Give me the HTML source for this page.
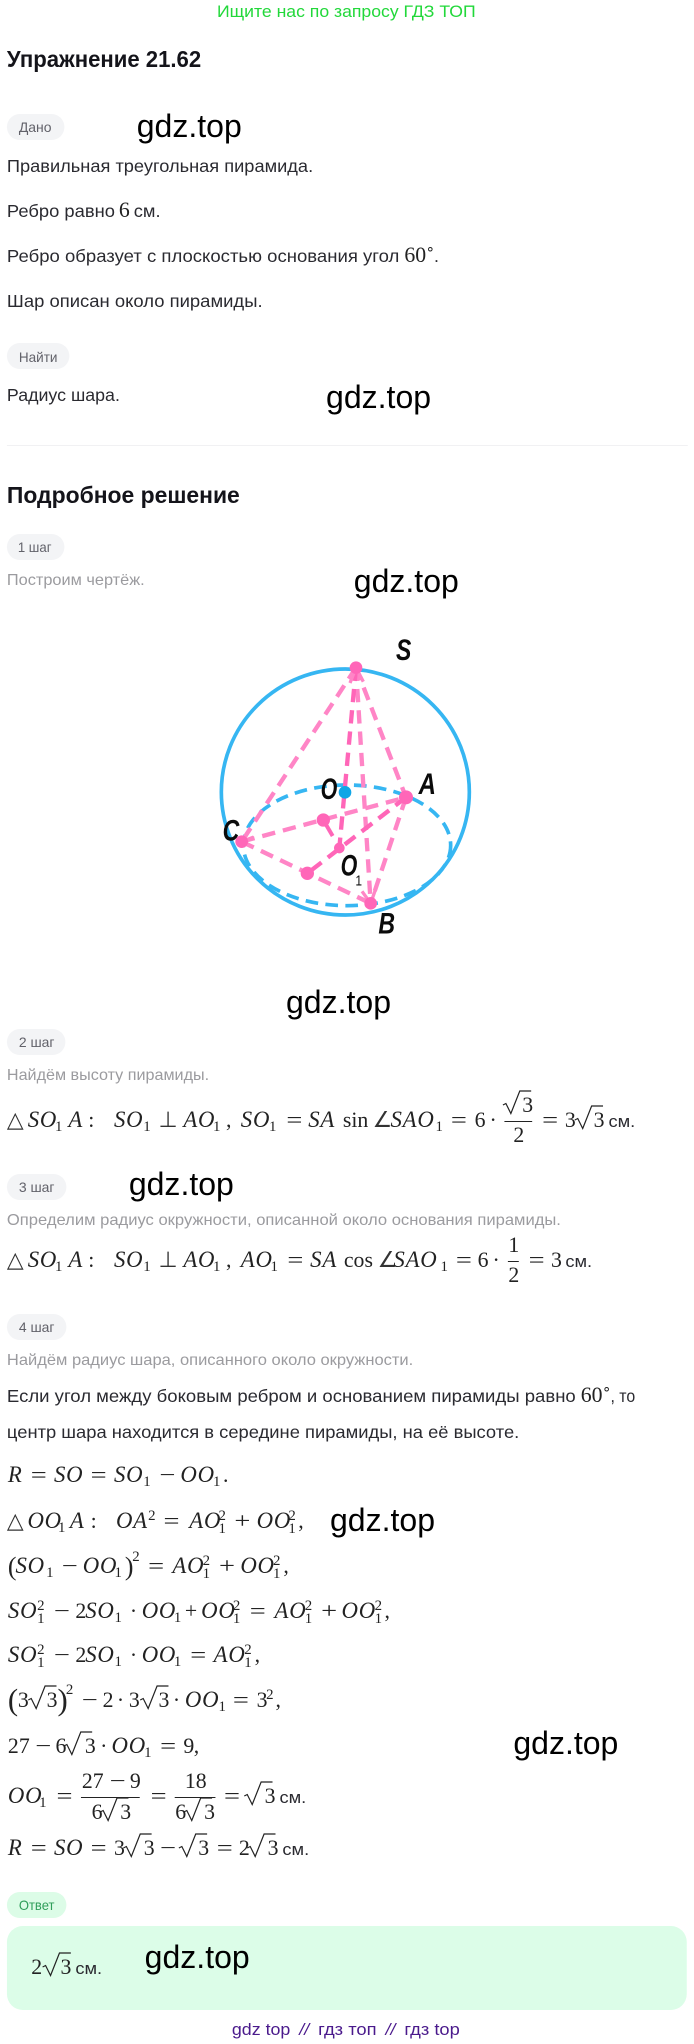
<!DOCTYPE html>
<html lang="ru"><head><meta charset="utf-8"><title>Упражнение 21.62</title>
<style>
html,body{margin:0;padding:0;background:#fff;width:694px;height:2044px;overflow:hidden}
svg{display:block}
text{white-space:pre}
.s{font-family:"Liberation Sans",sans-serif;font-size:18px;fill:#2a2a30}
.h{font-family:"Liberation Sans",sans-serif;font-size:23px;font-weight:bold;fill:#14141a}
.p{font-family:"Liberation Sans",sans-serif;font-size:14px;fill:#62626a}
.g{font-family:"Liberation Sans",sans-serif;font-size:16px;fill:#9b9b9f}
.w{font-family:"Liberation Sans",sans-serif;font-size:32px;fill:#000}
.m{font-family:"Liberation Serif",serif;font-size:22px;fill:#222}
.e{font-family:"Liberation Serif",serif;font-size:22px;fill:#222;transform-box:fill-box;transform-origin:0 0;transform:scaleX(1.3)}
.i{font-family:"Liberation Serif",serif;font-size:23px;font-style:italic;letter-spacing:.8px;fill:#222}
.b{font-family:"Liberation Serif",serif;font-size:15px;fill:#222;transform:translateX(-1.5px)}
.k{font-family:"Liberation Sans",sans-serif;font-size:17px;fill:#2a2a30}
.l{font-family:"Liberation Sans",sans-serif;font-weight:bold;font-style:italic;font-size:88px;fill:#0b0b0b}
.f{font-family:"Liberation Sans",sans-serif;font-size:17px;fill:#4a1a8c}
.d{font-family:"DejaVu Sans",sans-serif;font-size:22px;fill:#333}
.pk{fill:none;stroke:#ff85c6;stroke-width:13;stroke-dasharray:40 24}
</style></head><body>
<svg xmlns="http://www.w3.org/2000/svg" width="694" height="2044" viewBox="0 0 694 2044">
<defs><path id="r" d="M-2.500 -7l3 -1.500l5 10L14.500 -21h11.500" fill="none" stroke="#222" stroke-width="1.2"/></defs>
<g transform="scale(.991 1)">

<text x="219" y="17" font-family="Liberation Sans,sans-serif" font-size="17" fill="#22d83a" textLength="261" lengthAdjust="spacingAndGlyphs">Ищите нас по запросу ГДЗ ТОП</text>
<text class="h" x="7" y="67" textLength="196" lengthAdjust="spacingAndGlyphs">Упражнение 21.62</text>

<rect x="7" y="114" width="58" height="26" rx="13" fill="#f3f4f6"/>
<text class="p" x="19" y="132" textLength="33" lengthAdjust="spacingAndGlyphs">Дано</text>
<text class="w" x="138" y="137" textLength="106" lengthAdjust="spacingAndGlyphs">gdz.top</text>
<text class="s" x="7" y="172" textLength="309" lengthAdjust="spacingAndGlyphs">Правильная треугольная пирамида.</text>
<text class="s" x="7" y="217" textLength="109" lengthAdjust="spacingAndGlyphs">Ребро равно</text>
<text class="m" x="120" y="217">6</text>
<text class="s" x="135" y="217" textLength="27" lengthAdjust="spacingAndGlyphs">см.</text>
<text class="s" x="7" y="262" textLength="396" lengthAdjust="spacingAndGlyphs">Ребро образует с плоскостью основания угол</text>
<text class="m" x="408" y="262">60</text>
<text class="b" x="431" y="254">∘</text>
<text class="s" x="438" y="262">.</text>
<text class="s" x="7" y="307" textLength="258" lengthAdjust="spacingAndGlyphs">Шар описан около пирамиды.</text>

<rect x="7" y="343" width="63" height="26" rx="13" fill="#f3f4f6"/>
<text class="p" x="19" y="362" textLength="39" lengthAdjust="spacingAndGlyphs">Найти</text>
<text class="s" x="7" y="401" textLength="114" lengthAdjust="spacingAndGlyphs">Радиус шара.</text>
<text class="w" x="329" y="408" textLength="106" lengthAdjust="spacingAndGlyphs">gdz.top</text>
<rect x="7" y="445" width="687" height="1" fill="#f1f1f3"/>

<text class="h" x="7" y="503" textLength="235" lengthAdjust="spacingAndGlyphs">Подробное решение</text>
<rect x="7" y="534" width="58" height="26" rx="13" fill="#f3f4f6"/>
<text class="p" x="18" y="552" textLength="34" lengthAdjust="spacingAndGlyphs">1 шаг</text>
<text class="g" x="7" y="585" textLength="139" lengthAdjust="spacingAndGlyphs">Построим чертёж.</text>
<text class="w" x="357" y="592" textLength="106" lengthAdjust="spacingAndGlyphs">gdz.top</text>

<g transform="translate(181.634 630) scale(.33636 .33333)">
<ellipse cx="496" cy="486" rx="372" ry="369" fill="none" stroke="#36b6f2" stroke-width="11"/>
<ellipse cx="501" cy="646" rx="311" ry="181" fill="none" stroke="#36b6f2" stroke-width="11" stroke-dasharray="38 22"/>
<line class="pk" x1="528" y1="113" x2="185" y2="635"/>
<line class="pk" x1="528" y1="113" x2="678" y2="502"/>
<line class="pk" x1="528" y1="113" x2="572" y2="820"/>
<line class="pk" x1="678" y1="502" x2="572" y2="820"/>
<line class="pk" x1="185" y1="635" x2="678" y2="502"/>
<line class="pk" x1="185" y1="635" x2="572" y2="820"/>
<line class="pk" x1="678" y1="502" x2="382" y2="730" style="stroke:#ff66b8"/>
<line class="pk" x1="528" y1="113" x2="478" y2="654" style="stroke:#ff66b8"/>
<line x1="430" y1="570" x2="458" y2="618" stroke="#ff66b8" stroke-width="12"/>
<path d="M528 113l-18 46M528 113l22 42M572 820l-26 -36M572 820l14 -40M185 635l36 -14M185 635l36 16" stroke="#ff85c6" stroke-width="10" fill="none"/>
<g fill="#ff66b8">
<circle cx="528" cy="113" r="19"/><circle cx="678" cy="502" r="21"/><circle cx="572" cy="820" r="19"/>
<circle cx="185" cy="635" r="19"/><circle cx="478" cy="654" r="16"/><circle cx="430" cy="570" r="20"/><circle cx="382" cy="730" r="20"/>
</g>
<circle cx="495" cy="487" r="19" fill="#10a6e6"/>
<text class="l" x="648" y="90" textLength="46" lengthAdjust="spacingAndGlyphs">S</text>
<text class="l" x="716" y="492" textLength="52" lengthAdjust="spacingAndGlyphs">A</text>
<text class="l" x="422" y="507" textLength="50" lengthAdjust="spacingAndGlyphs">O</text>
<text class="l" x="128" y="632" textLength="50" lengthAdjust="spacingAndGlyphs">C</text>
<text class="l" x="482" y="737" textLength="50" lengthAdjust="spacingAndGlyphs">O</text>
<text x="526" y="766" font-family="Liberation Sans,sans-serif" font-size="44" fill="#111" textLength="20" lengthAdjust="spacingAndGlyphs">1</text>
<text class="l" x="595" y="910" textLength="50" lengthAdjust="spacingAndGlyphs">B</text>
</g>

<text class="w" x="288.600" y="1013" textLength="106" lengthAdjust="spacingAndGlyphs">gdz.top</text>
<rect x="7" y="1029" width="59" height="26" rx="13" fill="#f3f4f6"/>
<text class="p" x="19" y="1047" textLength="36" lengthAdjust="spacingAndGlyphs">2 шаг</text>
<text class="g" x="7" y="1080" textLength="204" lengthAdjust="spacingAndGlyphs">Найдём высоту пирамиды.</text>

<!-- math 1 -->
<g>
<text class="d" x="7" y="1127">△</text><text class="i" x="28" y="1127">SO</text><text class="b" x="57" y="1131">1</text><text class="i" x="69" y="1127">A</text><text class="m" x="89" y="1127">:</text>
<text class="i" x="115" y="1127">SO</text><text class="b" x="146" y="1131">1</text><text class="d" x="160" y="1127">⊥</text><text class="i" x="185" y="1127">AO</text><text class="b" x="216.500" y="1131">1</text><text class="m" x="228" y="1127">,</text>
<text class="i" x="243" y="1127">SO</text><text class="b" x="273" y="1131">1</text><text class="e" x="289" y="1127">=</text><text class="i" x="311" y="1127">SA</text><text class="m" x="346" y="1127">sin</text><text class="d" x="376" y="1127">∠</text><text class="i" x="394" y="1127">SAO</text><text class="b" x="441" y="1131">1</text><text class="e" x="455" y="1127">=</text><text class="m" x="479" y="1127">6</text><text class="m" x="494" y="1127">·</text>
<use href="#r" x="510" y="1112"/><text class="m" x="527" y="1112">3</text><rect x="509" y="1121" width="28" height="1" fill="#222"/><text class="m" x="518" y="1142">2</text>
<text class="e" x="547" y="1127">=</text><text class="m" x="570" y="1127">3</text><use href="#r" x="582.500" y="1127"/><text class="m" x="599" y="1127">3</text><text class="k" x="614" y="1127" textLength="27" lengthAdjust="spacingAndGlyphs">см.</text>
</g>

<rect x="7" y="1174" width="60" height="26" rx="13" fill="#f3f4f6"/>
<text class="p" x="19" y="1192" textLength="36" lengthAdjust="spacingAndGlyphs">3 шаг</text>
<text class="w" x="130" y="1195" textLength="106" lengthAdjust="spacingAndGlyphs">gdz.top</text>
<text class="g" x="7" y="1225" textLength="559" lengthAdjust="spacingAndGlyphs">Определим радиус окружности, описанной около основания пирамиды.</text>

<!-- math 2 -->
<g>
<text class="d" x="7" y="1267">△</text><text class="i" x="28" y="1267">SO</text><text class="b" x="57" y="1271">1</text><text class="i" x="69" y="1267">A</text><text class="m" x="89" y="1267">:</text>
<text class="i" x="115" y="1267">SO</text><text class="b" x="146" y="1271">1</text><text class="d" x="160" y="1267">⊥</text><text class="i" x="185" y="1267">AO</text><text class="b" x="216.500" y="1271">1</text><text class="m" x="228" y="1267">,</text>
<text class="i" x="243" y="1267">AO</text><text class="b" x="274.500" y="1271">1</text><text class="e" x="290" y="1267">=</text><text class="i" x="313" y="1267">SA</text><text class="m" x="347" y="1267">cos</text><text class="d" x="381" y="1267">∠</text><text class="i" x="397" y="1267">SAO</text><text class="b" x="446" y="1271">1</text><text class="e" x="460" y="1267">=</text><text class="m" x="482" y="1267">6</text><text class="m" x="497" y="1267">·</text>
<text class="m" x="513" y="1252">1</text><rect x="512.500" y="1261" width="11" height="1" fill="#222"/><text class="m" x="513" y="1282">2</text>
<text class="e" x="533.500" y="1267">=</text><text class="m" x="556" y="1267">3</text><text class="k" x="570.500" y="1267" textLength="27" lengthAdjust="spacingAndGlyphs">см.</text>
</g>

<rect x="7" y="1314" width="60" height="26" rx="13" fill="#f3f4f6"/>
<text class="p" x="19" y="1332" textLength="36" lengthAdjust="spacingAndGlyphs">4 шаг</text>
<text class="g" x="7" y="1365" textLength="410" lengthAdjust="spacingAndGlyphs">Найдём радиус шара, описанного около окружности.</text>
<text class="s" x="7" y="1402" textLength="574" lengthAdjust="spacingAndGlyphs">Если угол между боковым ребром и основанием пирамиды равно</text>
<text class="m" x="586" y="1402">60</text><text class="b" x="609" y="1394">∘</text>
<text class="s" x="616" y="1402" textLength="25" lengthAdjust="spacingAndGlyphs">, то</text>
<text class="s" x="7" y="1438" textLength="517" lengthAdjust="spacingAndGlyphs">центр шара находится в середине пирамиды, на её высоте.</text>

<!-- R=SO -->
<text class="i" x="8" y="1482">R</text><text class="e" x="31" y="1482">=</text><text class="i" x="54.500" y="1482">SO</text><text class="e" x="91.500" y="1482">=</text><text class="i" x="115" y="1482">SO</text><text class="b" x="146" y="1486">1</text><text class="e" x="161" y="1482">−</text><text class="i" x="182" y="1482">OO</text><text class="b" x="216.500" y="1486">1</text><text class="m" x="225" y="1482">.</text>

<!-- OO1A -->
<text class="d" x="7" y="1528">△</text><text class="i" x="27.700" y="1528">OO</text><text class="b" x="60" y="1532">1</text><text class="i" x="70.500" y="1528">A</text><text class="m" x="91.500" y="1528">:</text>
<text class="i" x="117" y="1528">OA</text><text class="b" x="151" y="1520">2</text><text class="e" x="165" y="1528">=</text><text class="i" x="191" y="1528">AO</text><text class="b" x="222" y="1520">2</text><text class="b" x="222" y="1533">1</text><text class="e" x="236.500" y="1528">+</text><text class="i" x="259" y="1528">OO</text><text class="b" x="292.500" y="1520">2</text><text class="b" x="292.500" y="1533">1</text><text class="m" x="301" y="1528">,</text>
<text class="w" x="333" y="1531" textLength="106" lengthAdjust="spacingAndGlyphs">gdz.top</text>

<!-- line 1573 -->
<text class="m" x="8" y="1575" style="font-size:26px">(</text><text class="i" x="15.600" y="1573">SO</text><text class="b" x="48" y="1577">1</text><text class="e" x="62.500" y="1573">−</text><text class="i" x="83.500" y="1573">OO</text><text class="b" x="117" y="1577">1</text><text class="m" x="126" y="1575" style="font-size:26px">)</text><text class="b" x="135" y="1561">2</text><text class="e" x="149.500" y="1573">=</text><text class="i" x="174" y="1573">AO</text><text class="b" x="206" y="1565">2</text><text class="b" x="206" y="1578">1</text><text class="e" x="221" y="1573">+</text><text class="i" x="242.500" y="1573">OO</text><text class="b" x="277" y="1565">2</text><text class="b" x="277" y="1578">1</text><text class="m" x="286" y="1573">,</text>

<!-- line 1618 -->
<text class="i" x="8" y="1618">SO</text><text class="b" x="39" y="1610">2</text><text class="b" x="39" y="1623">1</text><text class="e" x="54.500" y="1618">−</text><text class="m" x="76" y="1618">2</text><text class="i" x="86" y="1618">SO</text><text class="b" x="117" y="1622">1</text><text class="m" x="131" y="1618">·</text><text class="i" x="143" y="1618">OO</text><text class="b" x="177" y="1622">1</text><text class="m" x="186.500" y="1618">+</text><text class="i" x="203" y="1618">OO</text><text class="b" x="236.500" y="1610">2</text><text class="b" x="236.500" y="1623">1</text><text class="e" x="252" y="1618">=</text><text class="i" x="277" y="1618">AO</text><text class="b" x="309" y="1610">2</text><text class="b" x="309" y="1623">1</text><text class="e" x="324" y="1618">+</text><text class="i" x="344.600" y="1618">OO</text><text class="b" x="379.500" y="1610">2</text><text class="b" x="379.500" y="1623">1</text><text class="m" x="388" y="1618">,</text>

<!-- line 1662 -->
<text class="i" x="8" y="1662">SO</text><text class="b" x="39" y="1654">2</text><text class="b" x="39" y="1667">1</text><text class="e" x="54.500" y="1662">−</text><text class="m" x="76" y="1662">2</text><text class="i" x="86" y="1662">SO</text><text class="b" x="117" y="1666">1</text><text class="m" x="131" y="1662">·</text><text class="i" x="143" y="1662">OO</text><text class="b" x="177" y="1666">1</text><text class="e" x="192" y="1662">=</text><text class="i" x="215.600" y="1662">AO</text><text class="b" x="248" y="1654">2</text><text class="b" x="248" y="1667">1</text><text class="m" x="257" y="1662">,</text>

<!-- line 1707 -->
<text class="m" x="8" y="1710" style="font-size:31px">(</text><text class="m" x="18" y="1707">3</text><use href="#r" x="31" y="1707"/><text class="m" x="47" y="1707">3</text><text class="m" x="58" y="1710" style="font-size:31px">)</text><text class="b" x="68" y="1694">2</text><text class="e" x="82.600" y="1707">−</text><text class="m" x="103.600" y="1707">2</text><text class="m" x="118" y="1707">·</text><text class="m" x="130" y="1707">3</text><use href="#r" x="144" y="1707"/><text class="m" x="160" y="1707">3</text><text class="m" x="174.500" y="1707">·</text><text class="i" x="186.600" y="1707">OO</text><text class="b" x="222" y="1711">1</text><text class="e" x="235" y="1707">=</text><text class="m" x="259" y="1707">3</text><text class="b" x="270" y="1699">2</text><text class="m" x="278" y="1707">,</text>

<!-- line 1753 -->
<text class="m" x="8" y="1753">27</text><text class="e" x="35.700" y="1753">−</text><text class="m" x="56" y="1753">6</text><use href="#r" x="67" y="1753"/><text class="m" x="85.700" y="1753">3</text><text class="m" x="101" y="1753">·</text><text class="i" x="112.500" y="1753">OO</text><text class="b" x="147" y="1757">1</text><text class="e" x="161.600" y="1753">=</text><text class="m" x="185" y="1753">9</text><text class="m" x="195.500" y="1753">,</text>
<text class="w" x="518" y="1754" textLength="106" lengthAdjust="spacingAndGlyphs">gdz.top</text>

<!-- line 1803 -->
<text class="i" x="8" y="1803">OO</text><text class="b" x="41" y="1807">1</text><text class="e" x="57" y="1803">=</text>
<text class="m" x="82.600" y="1788">27</text><text class="e" x="110.700" y="1788">−</text><text class="m" x="131" y="1788">9</text><rect x="81.700" y="1797" width="59.300" height="1" fill="#222"/><text class="m" x="92.400" y="1819">6</text><use href="#r" x="103.600" y="1819"/><text class="m" x="121.400" y="1819">3</text>
<text class="e" x="152" y="1803">=</text>
<text class="m" x="186.600" y="1788">18</text><rect x="176.300" y="1797" width="41.100" height="1" fill="#222"/><text class="m" x="176.800" y="1819">6</text><use href="#r" x="188" y="1819"/><text class="m" x="206" y="1819">3</text>
<text class="e" x="226" y="1803">=</text><use href="#r" x="249" y="1803"/><text class="m" x="267" y="1803">3</text><text class="k" x="282" y="1803" textLength="27" lengthAdjust="spacingAndGlyphs">см.</text>

<!-- line 1855 -->
<text class="i" x="8" y="1855">R</text><text class="e" x="31" y="1855">=</text><text class="i" x="54.500" y="1855">SO</text><text class="e" x="91.500" y="1855">=</text><text class="m" x="115" y="1855">3</text><use href="#r" x="127" y="1855"/><text class="m" x="145" y="1855">3</text><text class="e" x="161.600" y="1855">−</text><use href="#r" x="183" y="1855"/><text class="m" x="200" y="1855">3</text><text class="e" x="218.700" y="1855">=</text><text class="m" x="241" y="1855">2</text><use href="#r" x="252" y="1855"/><text class="m" x="270" y="1855">3</text><text class="k" x="285" y="1855" textLength="27" lengthAdjust="spacingAndGlyphs">см.</text>

<!-- answer -->
<rect x="7" y="1892" width="60" height="26" rx="13" fill="#dcfce7"/>
<text class="p" x="19" y="1910" style="fill:#2f9e5a" textLength="36" lengthAdjust="spacingAndGlyphs">Ответ</text>
<rect x="7" y="1926" width="686" height="84" rx="16" fill="#dcfde8"/>
<text class="m" x="31.500" y="1974">2</text><use href="#r" x="45.500" y="1974"/><text class="m" x="61" y="1974">3</text><text class="k" x="76" y="1974" textLength="27" lengthAdjust="spacingAndGlyphs">см.</text>
<text class="w" x="146" y="1968" textLength="106" lengthAdjust="spacingAndGlyphs">gdz.top</text>

<text class="f" x="234" y="2035" textLength="59" lengthAdjust="spacingAndGlyphs">gdz top</text>
<text class="f" x="302" y="2035" textLength="10" lengthAdjust="spacingAndGlyphs" font-style="italic">//</text>
<text class="f" x="321" y="2035" textLength="59" lengthAdjust="spacingAndGlyphs">гдз топ</text>
<text class="f" x="389" y="2035" textLength="10" lengthAdjust="spacingAndGlyphs" font-style="italic">//</text>
<text class="f" x="408" y="2035" textLength="56" lengthAdjust="spacingAndGlyphs">гдз top</text>
</g>
</svg>
</body></html>
